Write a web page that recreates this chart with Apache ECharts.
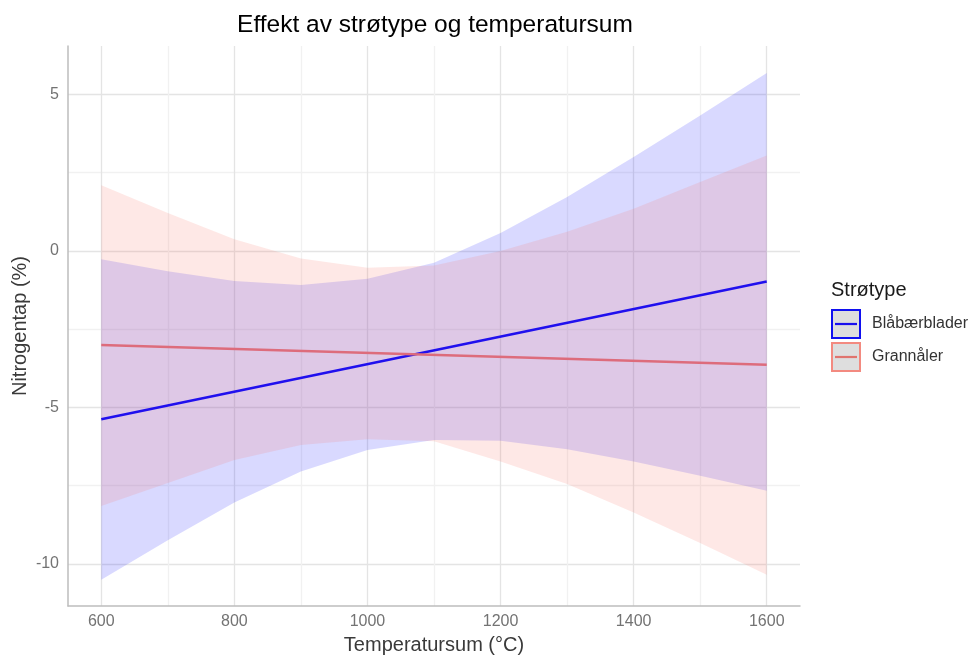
<!DOCTYPE html>
<html>
<head>
<meta charset="utf-8">
<script src="https://cdn.jsdelivr.net/npm/echarts@6/dist/echarts.min.js"></script>
<style>
html,body{margin:0;padding:0;background:#fff;}
#chart{width:973px;height:655px;}
</style>
</head>
<body>
<div id="chart"></div>
<script>
// ---- data ----
const xVals = [600, 700, 800, 900, 1000, 1100, 1200, 1300, 1400, 1500, 1600];
const blueLower = [-10.51, -9.25, -8.04, -7.05, -6.36, -6.04, -6.07, -6.34, -6.73, -7.19, -7.67];
const blueUpper = [-0.27, -0.65, -0.96, -1.09, -0.89, -0.38, 0.57, 1.72, 3.00, 4.33, 5.69];
const redLower = [-8.15, -7.42, -6.68, -6.20, -6.02, -6.08, -6.73, -7.45, -8.36, -9.34, -10.35];
const redUpper = [2.10, 1.21, 0.37, -0.24, -0.54, -0.47, 0.00, 0.61, 1.35, 2.20, 3.05];
const lineX = [600, 1600];
const blueFit = [-5.38, -0.98];
const redFit = [-3.01, -3.64];
const groups = ['Blåbærblader', 'Grannåler'];
const xTickLabels = [600, 800, 1000, 1200, 1400, 1600];
const yTickLabels = [-10, -5, 0, 5];

// ---- styling ----
const FONT = 'Liberation Sans, Arial, Helvetica, sans-serif';
const MAJOR = '#e4e4e4';
const MINOR = '#f1f1f1';
const NONE = 'rgba(0,0,0,0)';

// x: ticks every 50 from 550; gridlines at each 100 (major at 200s)
const xGridColors = [NONE, MAJOR, NONE, MINOR];
// y: ticks every 0.05 from -11.35; gridlines every 2.5 (major at 5s)
const yGridColors = [];
for (let i = 0; i < 100; i++) {
  yGridColors.push(i === 27 ? MAJOR : (i === 77 ? MINOR : NONE));
}

function bandRenderer(lo, hi, fill) {
  return function (params, api) {
    if (params.dataIndex !== 0) return null;
    const pts = [];
    for (let i = 0; i < xVals.length; i++) pts.push(api.coord([xVals[i], hi[i]]));
    for (let i = xVals.length - 1; i >= 0; i--) pts.push(api.coord([xVals[i], lo[i]]));
    return { type: 'polygon', shape: { points: pts }, style: { fill: fill } };
  };
}

const chart = echarts.init(document.getElementById('chart'), null, { renderer: 'canvas' });
const option = {
  animation: false,
  backgroundColor: '#ffffff',
  textStyle: { fontFamily: FONT },
  title: {
    text: 'Effekt av strøtype og temperatursum',
    left: 430,
    textAlign: 'center',
    top: 8,
    textStyle: { fontFamily: FONT, fontSize: 24.5, fontWeight: 'normal', color: '#000' }
  },
  grid: { left: 68, right: 173, top: 46, bottom: 49, outerBoundsMode: 'none', containLabel: false },
  xAxis: {
    type: 'value',
    min: 550, max: 1650, interval: 50,
    name: 'Temperatursum (°C)',
    nameLocation: 'middle',
    nameGap: 29,
    nameMoveOverlap: false,
    nameTextStyle: { fontFamily: FONT, fontSize: 20, color: '#3a3a3a' },
    axisLine: { show: true, onZero: false, lineStyle: { color: '#bdbdbd', width: 1.5 } },
    axisTick: { show: false },
    axisLabel: {
      margin: 8,
      fontFamily: FONT, fontSize: 16, color: '#737373',
      formatter: function (v) {
        const r = Math.round(v);
        return xTickLabels.indexOf(r) >= 0 && Math.abs(v - r) < 1e-6 ? String(r) : '';
      }
    },
    splitLine: { show: true, lineStyle: { color: xGridColors, width: 1.3 } }
  },
  yAxis: {
    type: 'value',
    min: -11.35, max: 6.55, interval: 0.05,
    name: 'Nitrogentap (%)',
    nameLocation: 'middle',
    nameGap: 38,
    nameMoveOverlap: false,
    nameTextStyle: { fontFamily: FONT, fontSize: 20, color: '#3a3a3a' },
    axisLine: { show: true, onZero: false, lineStyle: { color: '#bdbdbd', width: 1.5 } },
    axisTick: { show: false },
    axisLabel: {
      margin: 9,
      fontFamily: FONT, fontSize: 16, color: '#737373',
      formatter: function (v) {
        const r = Math.round(v);
        return yTickLabels.indexOf(r) >= 0 && Math.abs(v - r) < 1e-6 ? String(r) : '';
      }
    },
    splitLine: { show: true, lineStyle: { color: yGridColors, width: 1.3 } }
  },
  series: [
    {
      name: groups[0] + ' band', type: 'custom', silent: true, z: 2,
      renderItem: bandRenderer(blueLower, blueUpper, 'rgba(0,0,255,0.15)'),
      encode: { x: 0, y: [1, 2] },
      data: xVals.map((x, i) => [x, blueLower[i], blueUpper[i]])
    },
    {
      name: groups[1] + ' band', type: 'custom', silent: true, z: 3,
      renderItem: bandRenderer(redLower, redUpper, 'rgba(248,118,109,0.17)'),
      encode: { x: 0, y: [1, 2] },
      data: xVals.map((x, i) => [x, redLower[i], redUpper[i]])
    },
    {
      name: groups[0], type: 'line', z: 4, symbol: 'none', silent: true,
      lineStyle: { color: '#2010ee', width: 2.5 },
      data: lineX.map((x, i) => [x, blueFit[i]])
    },
    {
      name: groups[1], type: 'line', z: 5, symbol: 'none', silent: true,
      lineStyle: { color: '#dd6c7c', width: 2.5 },
      data: lineX.map((x, i) => [x, redFit[i]])
    }
  ],
  graphic: [
    { type: 'text', left: 831, top: 280, style: { text: 'Strøtype', fontFamily: FONT, fontSize: 20, fill: '#1a1a1a' } },
    { type: 'rect', shape: { x: 832, y: 310, width: 28, height: 28 }, style: { fill: '#dedede', stroke: '#1010f0', lineWidth: 2 } },
    { type: 'line', shape: { x1: 835, y1: 324, x2: 857, y2: 324 }, style: { stroke: '#1a10ee', lineWidth: 2.2 } },
    { type: 'text', left: 872, top: 316, style: { text: groups[0], fontFamily: FONT, fontSize: 16, fill: '#333' } },
    { type: 'rect', shape: { x: 832, y: 343, width: 28, height: 28 }, style: { fill: '#dedede', stroke: '#f38a80', lineWidth: 2 } },
    { type: 'line', shape: { x1: 835, y1: 357, x2: 857, y2: 357 }, style: { stroke: '#e0746e', lineWidth: 2.2 } },
    { type: 'text', left: 872, top: 349, style: { text: groups[1], fontFamily: FONT, fontSize: 16, fill: '#333' } }
  ]
};
chart.setOption(option);
</script>
</body>
</html>
